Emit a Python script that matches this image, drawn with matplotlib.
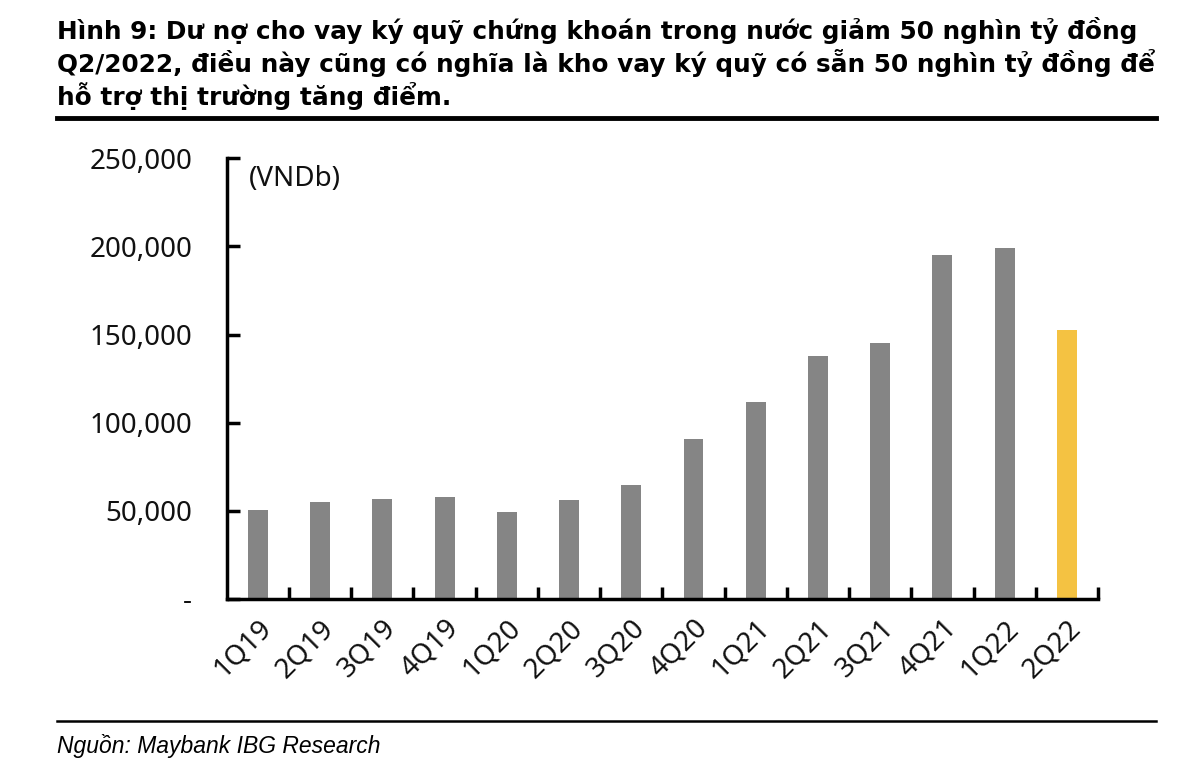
import numpy as np
import matplotlib
matplotlib.use("Agg")
import matplotlib.pyplot as plt
from matplotlib.ticker import FuncFormatter

# du no cho vay ky quy, VNDb
quarters = ["1Q19", "2Q19", "3Q19", "4Q19", "1Q20", "2Q20", "3Q20", "4Q20",
            "1Q21", "2Q21", "3Q21", "4Q21", "1Q22", "2Q22"]
margin_debt = [50500, 55000, 56600, 57700, 49200, 56000, 64500, 91000,
               111500, 138000, 145500, 195000, 199300, 152700]
y_ticks = [0, 50000, 100000, 150000, 200000, 250000]

title_lines = ["Hình 9: Dư nợ cho vay ký quỹ chứng khoán trong nước giảm 50 nghìn tỷ đồng",
               "Q2/2022, điều này cũng có nghĩa là kho vay ký quỹ có sẵn 50 nghìn tỷ đồng để",
               "hỗ trợ thị trường tăng điểm."]
source = "Nguồn: Maybank IBG Research"

fig = plt.figure(figsize=(12, 7.84), dpi=100)
ax = fig.add_axes([0.189, 0.236, 0.726, 0.562])

x = np.arange(len(quarters))
colors = ["#858585"] * (len(quarters) - 1) + ["#F4C242"]
ax.bar(x, margin_debt, width=0.32, color=colors)

ax.set_xlim(-0.5, len(quarters) - 0.5)
ax.set_ylim(0, 250000)

for s in ["top", "right"]:
    ax.spines[s].set_visible(False)
for s in ["left", "bottom"]:
    ax.spines[s].set_linewidth(2.5)

lab_font = "Noto Sans"
ax.set_yticks(y_ticks)
ax.yaxis.set_major_formatter(FuncFormatter(lambda v, p: "-" if v == 0 else f"{int(v):,}"))
ax.tick_params(axis="y", direction="in", length=9, width=2.5, pad=25, labelsize=20)
for t in ax.get_yticklabels():
    t.set_fontfamily(lab_font)
    t.set_color("#111111")

ax.set_xticks(x)
ax.set_xticklabels(quarters, rotation=45, ha="right", rotation_mode="anchor",
                   fontsize=20, fontfamily=lab_font, color="#111111")
ax.tick_params(axis="x", which="major", length=0, pad=11)
ax.set_xticks(np.arange(0.5, len(quarters)), minor=True)
ax.tick_params(axis="x", which="minor", direction="in", length=9, width=2.5)

ax.text(0.025, 0.985, "(VNDb)", transform=ax.transAxes, fontsize=20,
        fontfamily=lab_font, va="top", ha="left", color="#111111")

# title, one line at a time so the baselines sit where they should
for i, line in enumerate(title_lines):
    fig.text(0.0475, 0.9503 - i * 0.0421, line, fontsize=17.8, fontweight="bold",
             fontfamily="DejaVu Sans", va="baseline", ha="left")
fig.add_artist(plt.Line2D([0.0475, 0.963], [0.849, 0.849], color="black", lw=3.5))
fig.add_artist(plt.Line2D([0.0475, 0.963], [0.080, 0.080], color="black", lw=1.8))
fig.text(0.0475, 0.049, source, fontsize=16.5, fontstyle="italic",
         fontfamily="Liberation Sans", va="center", ha="left")

fig.savefig("out.png", dpi=100)
